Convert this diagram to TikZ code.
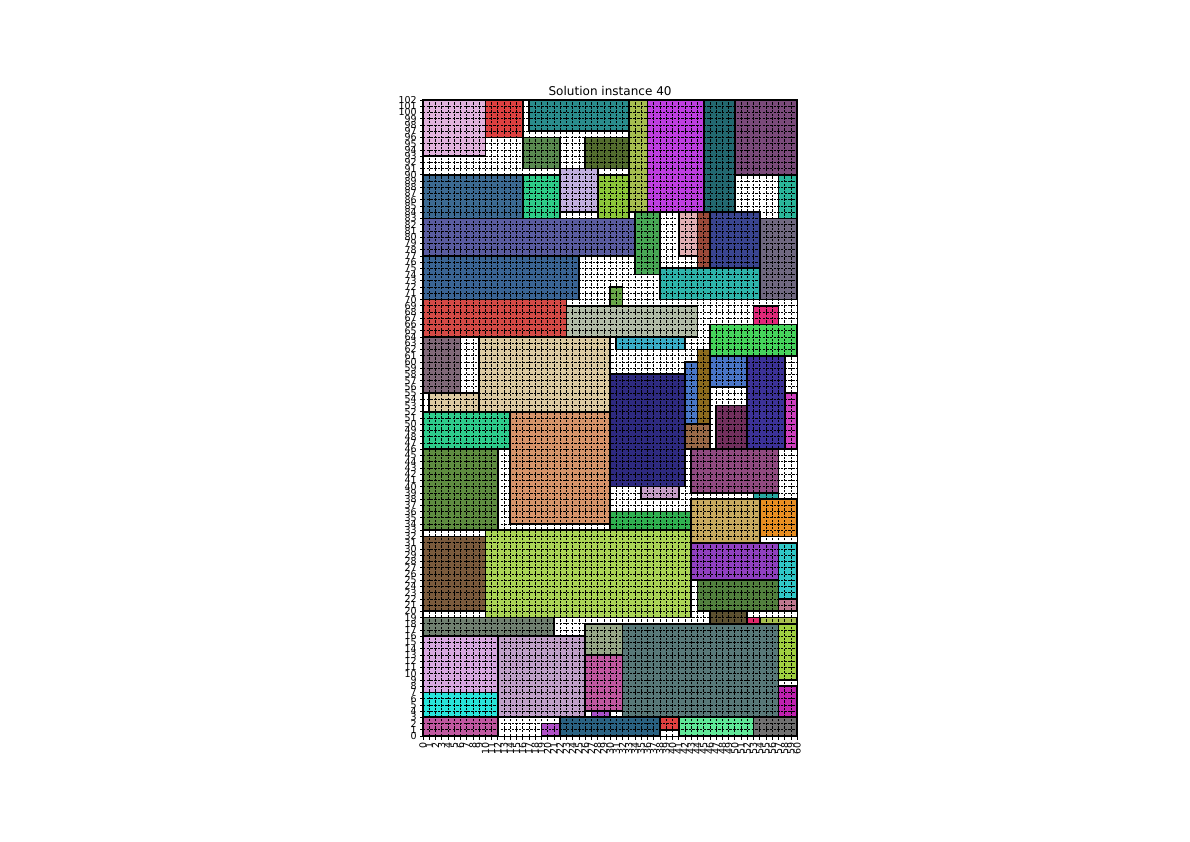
\documentclass[tikz,border=0pt]{standalone}
\usepackage{fontspec}
\setmainfont{DejaVu Sans}

% packed pieces: x1/y1/x2/y2/colour
\def\pieces{0/93/10/102/E2B3DD, 10/96/16/102/DD4040, 17/97/33/102/2A8C8C,
  16/91/22/96/5A8A50, 26/91/33/96/536C2E, 0/83/16/90/3C6A92, 16/83/22/90/2ECC88,
  22/84/28/91/C2B0E0, 28/83/33/90/8CC63A, 0/77/34/83/5A5CA0, 0/70/25/77/3A6494,
  0/64/23/70/D44A46, 33/84/36/102/A6BE50, 36/84/45/102/BE3EE0, 45/84/50/102/236870,
  50/90/60/102/7A4A7A, 57/83/60/90/2AB69A, 34/74/38/84/48A855, 41/77/44/84/E2B0B4,
  44/75/46/84/9A4A3A, 46/75/54/84/3A4590, 54/70/60/83/706880, 38/70/54/75/2EB4AA,
  30/69/32/72/6AA84A, 23/64/44/69/B2BCA8, 0/55/6/64/806878, 9/52/30/64/DCCAA2,
  1/52/9/55/DCCAA2, 0/46/14/52/2ECC8C, 14/34/30/52/D6946A, 0/33/12/46/5E8C40,
  31/62/42/64/3AAEC8, 53/66/57/69/E2287A, 46/61/60/66/46D45C, 44/50/46/62/8C6A1E,
  42/50/44/60/4A78C8, 46/56/52/61/4A76C8, 30/40/42/58/2E2A80, 52/46/58/61/3C3298,
  58/46/60/55/D040C0, 42/46/46/50/9A6A48, 47/46/52/53/72305E, 43/39/57/46/904A80,
  35/38/41/40/C8A0C8, 53/38/57/39/28A8A0, 30/33/43/36/30B050, 43/31/54/38/C8AA60,
  54/32/60/38/E88E22, 10/19/43/33/AAD456, 0/20/10/32/7A5A3C, 0/16/21/19/708070,
  26/13/32/18/98A888, 0/7/12/16/D8A8E0, 12/3/26/16/C0A0C8, 26/4/32/13/C058A0,
  0/3/12/7/28E4DA, 0/0/12/3/C058A0, 27/3/30/4/A850C8, 19/0/22/2/B050C8,
  22/0/38/3/2A6282, 43/25/57/31/9040C0, 57/22/60/31/30C8C8, 44/20/57/25/52803E,
  57/20/60/22/C07890, 46/18/52/20/5C5030, 52/18/54/19/E0286A, 54/18/60/19/A8C050,
  32/3/57/18/587878, 57/9/60/18/A0D040, 57/3/60/8/C020B0, 38/1/41/3/E04040,
  41/0/53/3/60E898, 53/0/60/3/707070}

\begin{document}
\begin{tikzpicture}[x=0.1247cm, y=0.1247cm,
    gridline/.style={black, line width=0.4pt, dash pattern=on 1.4pt off 0.7pt},
    piece/.style={draw=black, line width=1pt},
    ticklabel/.style={font=\fontsize{5.4}{6}\selectfont, inner sep=0pt}]
    \useasboundingbox (-67.84,-16.84) rectangle (123.0,118.04);

    % Isi potongan
    \foreach \xa/\ya/\xb/\yb/\col in \pieces {
        \definecolor{piececol}{HTML}{\col}
        \fill[piececol] (\xa,\ya) rectangle (\xb,\yb);
    }

    % Grid garis putus-putus
    \foreach \i in {0,...,60} \draw[gridline] (\i,0) -- (\i,102);
    \foreach \j in {0,...,102} \draw[gridline] (0,\j) -- (60,\j);

    % Tepi potongan
    \foreach \xa/\ya/\xb/\yb/\col in \pieces {
        \draw[piece] (\xa,\ya) rectangle (\xb,\yb);
    }

    % Bingkai
    \draw[line width=0.6pt] (0,0) rectangle (60,102);

    % Sumbu x
    \foreach \i in {0,...,60} {
        \draw[line width=0.4pt] (\i,0) -- (\i,-0.56);
        \node[ticklabel, rotate=90, anchor=east] (xlab\i) at (\i,-0.95) {\i};
    }

    % Sumbu y
    \foreach \j in {0,...,102} {
        \draw[line width=0.4pt] (0,\j) -- (-0.56,\j);
        \node[ticklabel, anchor=east] (ylab\j) at (-0.95,\j) {\j};
    }

    % Judul
    \node[font=\fontsize{6.85}{8}\selectfont] (title) at (30,103.45) {Solution instance 40};
\end{tikzpicture}
\end{document}
